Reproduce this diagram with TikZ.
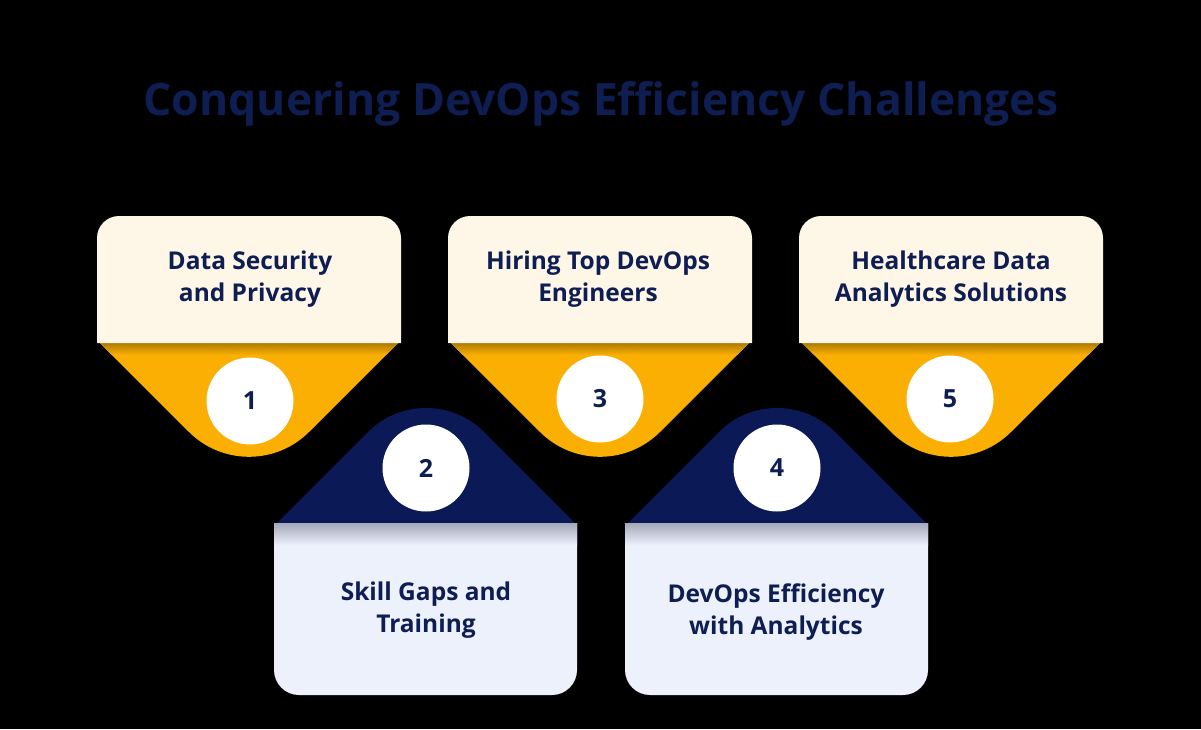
\documentclass[tikz,border=0pt]{standalone}
\usepackage{fontspec}
\setmainfont{Open Sans}
\definecolor{inkblue}{HTML}{0E1D52}
\definecolor{navyband}{HTML}{0B1A57}
\definecolor{amber}{HTML}{FBAF03}
\definecolor{cream}{HTML}{FEF7E8}
\definecolor{paleblue}{HTML}{EDF1FC}
\definecolor{shadowgray}{HTML}{A4A8B8}

\begin{document}
\begin{tikzpicture}
        [x=1pt,y=-1pt,
        cardtext/.style={align=center,text=inkblue,font=\fontsize{24.5}{32}\selectfont\bfseries},
        numdisc/.style={circle,fill=white,minimum size=87pt,inner sep=0pt,text=inkblue,font=\fontsize{25}{30}\selectfont\bfseries},
        topbox/.style={fill=cream,rounded corners=22pt},
        lowbox/.style={fill=paleblue,rounded corners=25pt},
        funnel/.style={fill=amber,rounded corners=85pt},
        roof/.style={fill=navyband,rounded corners=82pt}]
    
    \fill[black] (0,0) rectangle (1201,729);
    \node[text=inkblue,font=\fontsize{44.5}{50}\selectfont\bfseries] (title) at (601,104) {Conquering DevOps Efficiency Challenges};
    
    % upper cards
    \fill[funnel] (100,343) -- (249,492) -- (398,343);
    \shade[top color=amber!70!black,bottom color=amber] (100,343) -- (398,343) -- (386,355) -- (112,355) -- cycle;
    \fill[topbox] (97,343) -- (97,216) -- (401,216) -- (401,343);
    \node[cardtext] (t1) at (250,279) {Data Security\\and Privacy};
    \node[numdisc] (n1) at (250,401) {1};
    
    \fill[funnel] (451,343) -- (600,492) -- (749,343);
    \shade[top color=amber!70!black,bottom color=amber] (451,343) -- (749,343) -- (737,355) -- (463,355) -- cycle;
    \fill[topbox] (448,343) -- (448,216) -- (752,216) -- (752,343);
    \node[cardtext] (t3) at (598,279) {Hiring Top DevOps\\Engineers};
    \node[numdisc] (n3) at (600,399) {3};
    
    \fill[funnel] (802,343) -- (951,492) -- (1100,343);
    \shade[top color=amber!70!black,bottom color=amber] (802,343) -- (1100,343) -- (1088,355) -- (814,355) -- cycle;
    \fill[topbox] (799,343) -- (799,216) -- (1103,216) -- (1103,343);
    \node[cardtext] (t5) at (951,279) {Healthcare Data\\Analytics Solutions};
    \node[numdisc] (n5) at (950,399) {5};
    
    % lower cards
    \fill[roof] (277,523) -- (426,374) -- (575,523);
    \fill[lowbox] (274,523) -- (274,695) -- (577,695) -- (577,523);
    \shade[top color=shadowgray,bottom color=paleblue] (274,523) rectangle (577,545);
    \node[cardtext] (t2) at (426,610) {Skill Gaps and\\Training};
    \node[numdisc] (n2) at (426,468) {2};
    
    \fill[roof] (628,523) -- (777,374) -- (926,523);
    \fill[lowbox] (625,523) -- (625,695) -- (928,695) -- (928,523);
    \shade[top color=shadowgray,bottom color=paleblue] (625,523) rectangle (928,545);
    \node[cardtext] (t4) at (776,612) {DevOps Efficiency\\with Analytics};
    \node[numdisc] (n4) at (777,468) {4};
    
    \end{tikzpicture}
\end{document}
